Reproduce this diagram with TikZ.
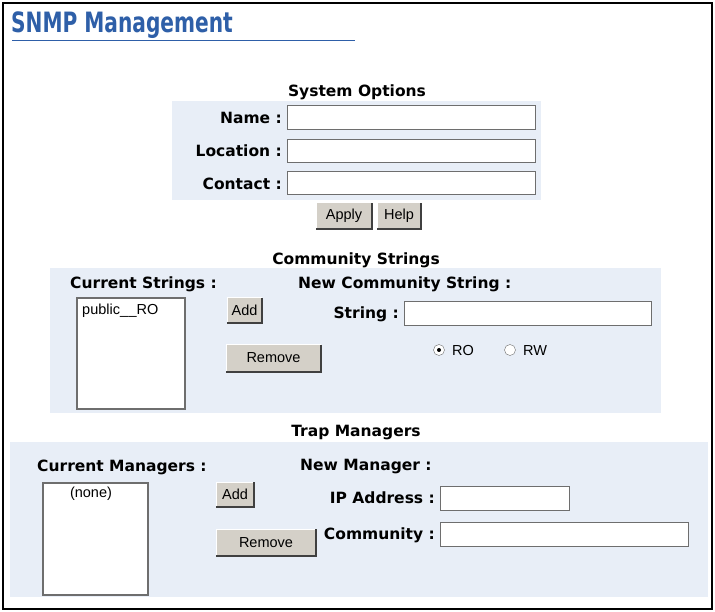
\documentclass[tikz,border=0pt]{standalone}
\usepackage{fontspec}
\setmainfont{DejaVu Sans}
\newfontfamily\titlefont{DejaVu Sans}
\newfontfamily\btnfont{Liberation Sans}
\usetikzlibrary{positioning}
\definecolor{titleblue}{RGB}{46,95,168}
\definecolor{panelblue}{RGB}{232,238,247}
\definecolor{btngray}{RGB}{212,208,200}
\definecolor{edgegray}{RGB}{110,110,110}
\tikzset{
  panel/.style={fill=panelblue, draw=none},
  field/.style={fill=white, draw=edgegray, line width=1pt},
  listbox/.style={fill=white, draw=edgegray, line width=1.5pt},
  btnshade/.style={draw=black!75, line width=1.2pt},
  heading/.style={font=\bfseries\fontsize{15.5}{17}\selectfont, text=black},
  lbl/.style={font=\bfseries\fontsize{15.5}{17}\selectfont, anchor=east, inner sep=1pt},
  btntext/.style={font=\btnfont\fontsize{14.5}{16}\selectfont},
  radio/.style={circle, draw=edgegray, fill=white, minimum size=11pt, inner sep=0pt}
}
\newcommand{\uibutton}[4]{% x1, y1, x2, y2
  \fill[btngray] (#1,#2) rectangle (#3,#4);
  \draw[white, line width=1pt] (#1,#4) -- (#1,#2) -- (#3,#2);
  \draw[btnshade] (#1,#4) -- (#3,#4) -- (#3,#2);
}
\begin{document}
\begin{tikzpicture}[x=1pt, y=-1pt]
\useasboundingbox (0,0) rectangle (715,612);
\fill[white] (0,0) rectangle (715,612);
\draw[black, line width=2pt] (3,3) rectangle (712,609);

% Title
\node[anchor=west, inner sep=0pt, xscale=0.72, text=titleblue, font=\titlefont\bfseries\fontsize{28}{30}\selectfont] (title) at (11,25) {SNMP Management};
\draw[titleblue, line width=1pt] (12,41) -- (355,41);

% System options
\node[heading] (sysopt) at (357,92) {System Options};
\fill[panel] (172,101) rectangle (541,200);
\node[lbl] (namel) at (283,118) {Name :};
\node[lbl] (locl) at (283,151) {Location :};
\node[lbl] (contl) at (283,184) {Contact :};
\draw[field] (287,106) rectangle (535,130);
\draw[field] (287,140) rectangle (535,163);
\draw[field] (287,172) rectangle (535,195);
\uibutton{316}{203}{372}{229}
\node[btntext] (apply) at (344,216) {Apply};
\uibutton{377}{203}{421}{229}
\node[btntext] (help) at (399,216) {Help};

% Community strings
\node[heading] (commstr) at (356,260) {Community Strings};
\fill[panel] (50,268) rectangle (661,413);
\node[heading, anchor=west, inner sep=0pt] (curstr) at (70,284) {Current Strings :};
\node[heading, anchor=west, inner sep=0pt] (newstr) at (298,284) {New Community String :};
\draw[listbox] (77,298) rectangle (185,409);
\node[btntext, anchor=west, inner sep=0pt] (public) at (82,311) {public\_\kern0.5pt\_RO};
\uibutton{227}{298}{262}{323}
\node[btntext] (adds) at (244.5,310) {Add};
\uibutton{226}{345}{321}{372}
\node[btntext] (rems) at (273.5,358) {Remove};
\node[lbl] (strl) at (400,314) {String :};
\draw[field] (404,302) rectangle (651,326);
\node[radio] (ro) at (439,350) {};
\fill[black] (ro) circle (2pt);
\node[btntext, anchor=west, inner sep=0pt] (rot) at (452,351) {RO};
\node[radio] (rw) at (510,350) {};
\node[btntext, anchor=west, inner sep=0pt] (rwt) at (523,351) {RW};

% Trap managers
\node[heading] (trap) at (356,433) {Trap Managers};
\fill[panel] (10,442) rectangle (708,597);
\node[heading, anchor=west, inner sep=0pt] (curman) at (37,467) {Current Managers :};
\node[heading, anchor=west, inner sep=0pt] (newman) at (300,467) {New Manager :};
\draw[listbox] (43,483) rectangle (148,595);
\node[btntext] (none) at (91,494) {(none)};
\uibutton{216}{482}{254}{507}
\node[btntext] (addm) at (235,494) {Add};
\uibutton{216}{529}{316}{556}
\node[btntext] (remm) at (266,543) {Remove};
\node[lbl] (ipl) at (436,498) {IP Address :};
\draw[field] (440,486) rectangle (569,510);
\node[lbl] (coml) at (436,535) {Community :};
\draw[field] (440,522) rectangle (688,546);
\end{tikzpicture}
\end{document}
